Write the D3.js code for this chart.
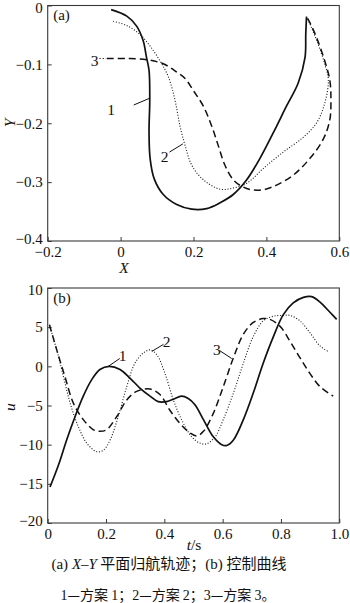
<!DOCTYPE html>
<html>
<head>
<meta charset="utf-8">
<script src="https://cdn.jsdelivr.net/npm/d3@7/dist/d3.min.js"></script>
<style>
  html, body { margin: 0; padding: 0; background: #fff; }
  svg { display: block; }
  text { font-family: "Liberation Serif", "Times New Roman", serif; fill: #111; }
  .cjk { font-family: "Noto Sans CJK SC", "Liberation Serif", serif; }
</style>
</head>
<body>
<script>
// ---- (a) X–Y homing trajectories: [X, Y] pairs for each scheme ----
const trajScheme1 = [
  [-0.026,-0.007],[0.017,-0.018],[0.044,-0.035],[0.062,-0.060],[0.071,-0.088],[0.078,-0.110],
  [0.080,-0.160],[0.078,-0.216],[0.081,-0.260],[0.092,-0.294],[0.117,-0.321],[0.154,-0.338],
  [0.195,-0.346],[0.236,-0.345],[0.273,-0.335],[0.309,-0.321],[0.346,-0.296],[0.382,-0.260],
  [0.419,-0.216],[0.455,-0.171],[0.487,-0.132],[0.506,-0.088],[0.508,-0.049],[0.510,-0.019]
];
const trajScheme2 = [
  [-0.020,-0.027],[0.017,-0.034],[0.053,-0.049],[0.081,-0.069],[0.108,-0.094],[0.131,-0.121],
  [0.149,-0.160],[0.163,-0.205],[0.177,-0.238],[0.195,-0.271],[0.227,-0.296],[0.273,-0.312],
  [0.309,-0.310],[0.346,-0.302],[0.391,-0.277],[0.446,-0.249],[0.501,-0.224],[0.538,-0.199],
  [0.560,-0.166],[0.570,-0.127],[0.560,-0.099],[0.542,-0.066],[0.524,-0.038],[0.510,-0.019]
];
const trajScheme3 = [
  [-0.038,-0.090],[0.017,-0.090],[0.071,-0.092],[0.117,-0.099],[0.154,-0.113],[0.177,-0.124],
  [0.199,-0.144],[0.227,-0.171],[0.250,-0.205],[0.268,-0.238],[0.286,-0.271],[0.309,-0.296],
  [0.332,-0.307],[0.359,-0.313],[0.391,-0.313],[0.428,-0.305],[0.474,-0.288],[0.519,-0.260],
  [0.556,-0.227],[0.574,-0.194],[0.577,-0.160],[0.574,-0.127],[0.560,-0.094],[0.538,-0.055],
  [0.520,-0.030],[0.510,-0.019]
];

// ---- (b) control curves: [t, u] pairs for each scheme ----
const ctrlScheme1 = [
  [0.008,-15.4],[0.037,-12.6],[0.065,-9.4],[0.094,-6.4],[0.122,-3.8],[0.151,-1.7],[0.179,-0.4],
  [0.211,0.0],[0.248,-0.4],[0.282,-1.5],[0.317,-2.8],[0.351,-3.8],[0.379,-4.5],[0.408,-4.5],
  [0.431,-4.2],[0.459,-3.8],[0.482,-4.1],[0.505,-4.9],[0.534,-6.8],[0.568,-9.0],[0.597,-10.0],
  [0.614,-10.1],[0.637,-9.4],[0.671,-6.8],[0.705,-3.4],[0.739,0.4],[0.774,3.8],[0.808,6.6],
  [0.842,8.1],[0.877,8.8],[0.905,8.9],[0.934,8.2],[0.968,6.9],[0.991,6.0]
];
const ctrlScheme2 = [
  [0.006,5.3],[0.031,2.1],[0.054,-1.3],[0.077,-4.7],[0.105,-7.7],[0.134,-9.8],[0.168,-10.9],
  [0.191,-10.7],[0.214,-9.4],[0.242,-6.4],[0.271,-2.6],[0.299,0.4],[0.328,1.7],[0.351,2.1],
  [0.374,1.5],[0.402,-0.9],[0.431,-4.3],[0.459,-6.8],[0.494,-9.0],[0.522,-9.8],[0.545,-9.9],
  [0.574,-9.0],[0.602,-6.8],[0.637,-3.4],[0.671,0.4],[0.705,3.8],[0.739,5.8],[0.774,6.4],
  [0.808,6.5],[0.831,6.5],[0.865,5.8],[0.899,4.3],[0.934,2.6],[0.962,1.9]
];
const ctrlScheme3 = [
  [0.006,5.3],[0.031,2.1],[0.059,-1.3],[0.088,-4.7],[0.122,-6.8],[0.157,-8.1],[0.179,-8.3],
  [0.202,-8.1],[0.237,-6.4],[0.271,-4.3],[0.305,-3.2],[0.351,-2.9],[0.385,-3.6],[0.419,-5.6],
  [0.454,-7.3],[0.488,-8.5],[0.511,-8.9],[0.534,-8.3],[0.568,-6.0],[0.602,-2.6],[0.637,1.1],
  [0.671,4.1],[0.705,5.6],[0.739,6.1],[0.762,6.0],[0.797,5.1],[0.831,3.2],[0.865,1.1],
  [0.899,-0.9],[0.934,-2.6],[0.979,-3.8]
];

// ---- tick values ----
const trajXTicks = [-0.2, 0, 0.2, 0.4, 0.6];
const trajYTicks = [0, -0.1, -0.2, -0.3, -0.4];
const ctrlXTicks = [0, 0.2, 0.4, 0.6, 0.8, 1.0];
const ctrlXTickLabels = ["0", "0.2", "0.4", "0.6", "0.8", "1.0"];
const ctrlYTicks = [10, 5, 0, -5, -10, -15, -20];

// ---- curve labels: text, text anchor point, leader from/to (data coords) ----
const trajLabels = [
  { text: "1", at: [-0.026, -0.176], from: [0.036, -0.169], to: [0.078, -0.158], dash: null },
  { text: "2", at: [0.121, -0.257], from: [0.134, -0.249], to: [0.171, -0.235], dash: null },
  { text: "3", at: [-0.071, -0.094], from: [-0.058, -0.090], to: [-0.040, -0.090], dash: "1.2,2" }
];
const ctrlLabels = [
  { text: "1", at: [0.257, 1.4], from: [0.247, 1.0], to: [0.208, 0.0] },
  { text: "2", at: [0.408, 3.2], from: [0.397, 2.8], to: [0.357, 1.9] },
  { text: "3", at: [0.580, 2.1], from: [0.590, 2.0], to: [0.631, 1.0] }
];

const captionLine1 = [
  { t: "(a) ", italic: false, cjk: false },
  { t: "X", italic: true, cjk: false },
  { t: "–", italic: false, cjk: false },
  { t: "Y", italic: true, cjk: false },
  { t: " 平面归航轨迹；", italic: false, cjk: true },
  { t: "(b) ", italic: false, cjk: false },
  { t: "控制曲线", italic: false, cjk: true }
];
const captionLine2 = [
  { t: "1", cjk: false }, { t: "—方案 ", cjk: true }, { t: "1", cjk: false }, { t: "；", cjk: true },
  { t: "2", cjk: false }, { t: "—方案 ", cjk: true }, { t: "2", cjk: false }, { t: "；", cjk: true },
  { t: "3", cjk: false }, { t: "—方案 ", cjk: true }, { t: "3", cjk: false }, { t: "。", cjk: true }
];

const fmtMinus = v => (v < 0 ? "\u2212" : "") + d3.format("")(Math.abs(v));

const W = 350, H = 603;
const svg = d3.select("body").append("svg").attr("width", W).attr("height", H);

const styles = {
  1: { width: 1.7, dash: null },
  2: { width: 1.1, dash: "1,1.8" },
  3: { width: 1.5, dash: "7,4" }
};

function panel(cfg) {
  const g = svg.append("g");
  const x = d3.scaleLinear().domain(cfg.xDomain).range([cfg.left, cfg.right]);
  const y = d3.scaleLinear().domain(cfg.yDomain).range([cfg.bottom, cfg.top]);

  // frame
  g.append("rect")
    .attr("x", cfg.left).attr("y", cfg.top)
    .attr("width", cfg.right - cfg.left).attr("height", cfg.bottom - cfg.top)
    .attr("fill", "none").attr("stroke", "#3a3a3a").attr("stroke-width", 1.1);

  // axes with inward ticks
  const xAxis = d3.axisBottom(x).tickValues(cfg.xTicks).tickSize(-4).tickPadding(5)
    .tickFormat(cfg.xFmt);
  const yAxis = d3.axisLeft(y).tickValues(cfg.yTicks).tickSize(-4).tickPadding(5)
    .tickFormat(cfg.yFmt);
  const gx = g.append("g").attr("transform", `translate(0,${cfg.bottom})`).call(xAxis);
  const gy = g.append("g").attr("transform", `translate(${cfg.left},0)`).call(yAxis);
  [gx, gy].forEach(a => {
    a.attr("font-family", null);
    a.select(".domain").remove();
    a.selectAll(".tick line").attr("stroke", "#3a3a3a").attr("stroke-width", 1);
    a.selectAll(".tick text").attr("font-size", 15).attr("fill", "#111");
  });
  // keep the end y labels clear of the page edge and the x labels
  gy.selectAll(".tick text").filter(d => d === cfg.yDomain[1]).attr("dy", "0.45em");
  gy.selectAll(".tick text").filter(d => d === cfg.yDomain[0]).attr("dy", "0.15em");

  const line = d3.line().x(d => x(d[0])).y(d => y(d[1])).curve(d3.curveCatmullRom.alpha(0.5));
  cfg.series.forEach((s, i) => {
    const st = styles[i + 1];
    g.append("path").datum(s).attr("d", line)
      .attr("fill", "none").attr("stroke", "#111")
      .attr("stroke-width", st.width)
      .attr("stroke-dasharray", st.dash)
      .attr("stroke-linejoin", "round");
  });

  cfg.labels.forEach(l => {
    g.append("line")
      .attr("x1", x(l.from[0])).attr("y1", y(l.from[1]))
      .attr("x2", x(l.to[0])).attr("y2", y(l.to[1]))
      .attr("stroke", "#111").attr("stroke-width", 1)
      .attr("stroke-dasharray", l.dash || null);
    g.append("text").attr("x", x(l.at[0])).attr("y", y(l.at[1]))
      .attr("text-anchor", "middle").attr("dominant-baseline", "central")
      .attr("font-size", 15.5).text(l.text);
  });

  g.append("text").attr("x", cfg.left + 5.5).attr("y", cfg.top + 14.5)
    .attr("font-size", 15).text(cfg.tag);

  // axis titles
  const xt = g.append("text").attr("x", cfg.xTitlePos[0]).attr("y", cfg.xTitlePos[1])
    .attr("text-anchor", "middle").attr("font-size", 15.5);
  cfg.xTitle.forEach(p => xt.append("tspan").attr("font-style", p.italic ? "italic" : null).text(p.t));
  g.append("text")
    .attr("transform", `translate(${cfg.yTitlePos[0]},${cfg.yTitlePos[1]}) rotate(-90)`)
    .attr("text-anchor", "middle").attr("dominant-baseline", "central")
    .attr("font-size", 15.5).attr("font-style", "italic")
    .text(cfg.yTitle);
}

panel({
  left: 47.7, right: 339.3, top: 5.5, bottom: 241,
  xDomain: [-0.2, 0.6], yDomain: [-0.4, 0],
  xTicks: trajXTicks, yTicks: trajYTicks,
  xFmt: fmtMinus, yFmt: fmtMinus,
  series: [trajScheme1, trajScheme2, trajScheme3],
  labels: trajLabels, tag: "(a)",
  xTitle: [{ t: "X", italic: true }], xTitlePos: [124, 273],
  yTitle: "Y", yTitlePos: [9, 123]
});

panel({
  left: 47.7, right: 339.3, top: 288, bottom: 523,
  xDomain: [0, 1], yDomain: [-20, 10],
  xTicks: ctrlXTicks, yTicks: ctrlYTicks,
  xFmt: (d, i) => ctrlXTickLabels[i], yFmt: fmtMinus,
  series: [ctrlScheme1, ctrlScheme2, ctrlScheme3],
  labels: ctrlLabels, tag: "(b)",
  xTitle: [{ t: "t", italic: true }, { t: "/s", italic: false }], xTitlePos: [194, 550],
  yTitle: "u", yTitlePos: [9, 407]
});

// caption
const cap1 = svg.append("text").attr("x", 169).attr("y", 569).attr("text-anchor", "middle")
  .attr("font-size", 15);
captionLine1.forEach(p => cap1.append("tspan")
  .attr("class", p.cjk ? "cjk" : null)
  .attr("font-style", p.italic ? "italic" : null)
  .text(p.t));
const cap2 = svg.append("text").attr("x", 168).attr("y", 600).attr("text-anchor", "middle")
  .attr("font-size", 14);
captionLine2.forEach(p => cap2.append("tspan").attr("class", p.cjk ? "cjk" : null).text(p.t));
</script>
</body>
</html>
